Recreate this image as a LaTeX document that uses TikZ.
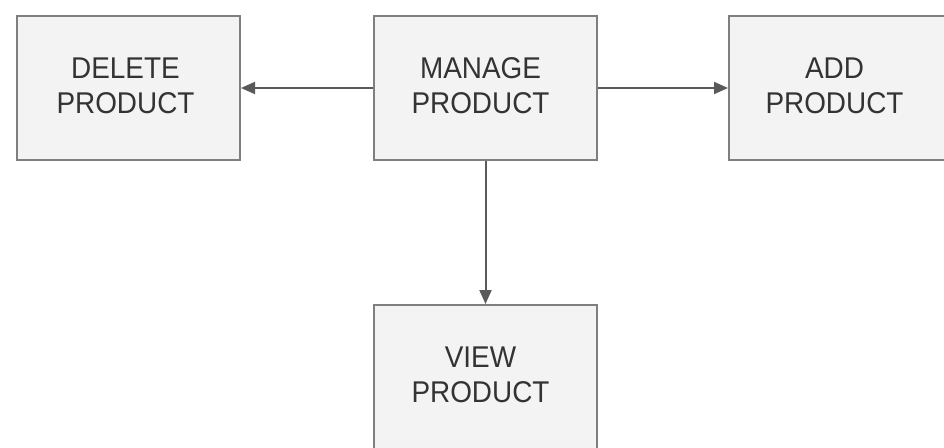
\documentclass[tikz,border=0pt]{standalone}
\usepackage{fontspec}
\setmainfont{Liberation Sans}[FakeStretch=0.93]
\usetikzlibrary{arrows.meta}
\definecolor{boxfill}{HTML}{F3F3F3}
\definecolor{boxline}{HTML}{7F7F7F}
\definecolor{linkline}{HTML}{5A5A5A}
\definecolor{labeltext}{HTML}{333333}
\begin{document}
\begin{tikzpicture}[x=1pt,y=-1pt,
  procbox/.style={draw=boxline, line width=2pt, fill=boxfill,
    minimum width=223pt, minimum height=144pt, inner sep=0pt},
  boxtext/.style={align=center, text=labeltext, inner sep=0pt,
    font=\fontsize{30pt}{35pt}\selectfont},
  link/.style={draw=linkline, line width=2pt,
    -{Triangle[length=14pt,width=12pt]}}]
  \useasboundingbox (0,0) rectangle (944,447);
  \clip (0,0) rectangle (944,447);
  \fill[white] (0,0) rectangle (944,447);

  % process boxes, each with its two-line caption
  \node[procbox] (manage) at (485.5,88) {};
  \node[procbox] (delete) at (128.5,88) {};
  \node[procbox] (add)    at (840.5,88) {};
  \node[procbox] (view)   at (485.5,377) {};

  \node[boxtext] (manageT) at ([shift={(-5,-2)}]manage.center) {MANAGE\\PRODUCT};
  \node[boxtext] (deleteT) at ([shift={(-3,-2)}]delete.center) {DELETE\\PRODUCT};
  \node[boxtext] (addT)    at ([shift={(-6,-2)}]add.center)    {ADD\\PRODUCT};
  \node[boxtext] (viewT)   at ([shift={(-5,-2)}]view.center)   {VIEW\\PRODUCT};

  % connectors from the central box
  \draw[link] (manage.west) -- (delete.east);
  \draw[link] (manage.east) -- (add.west);
  \draw[link] (manage.south) -- (view.north);
\end{tikzpicture}
\end{document}
